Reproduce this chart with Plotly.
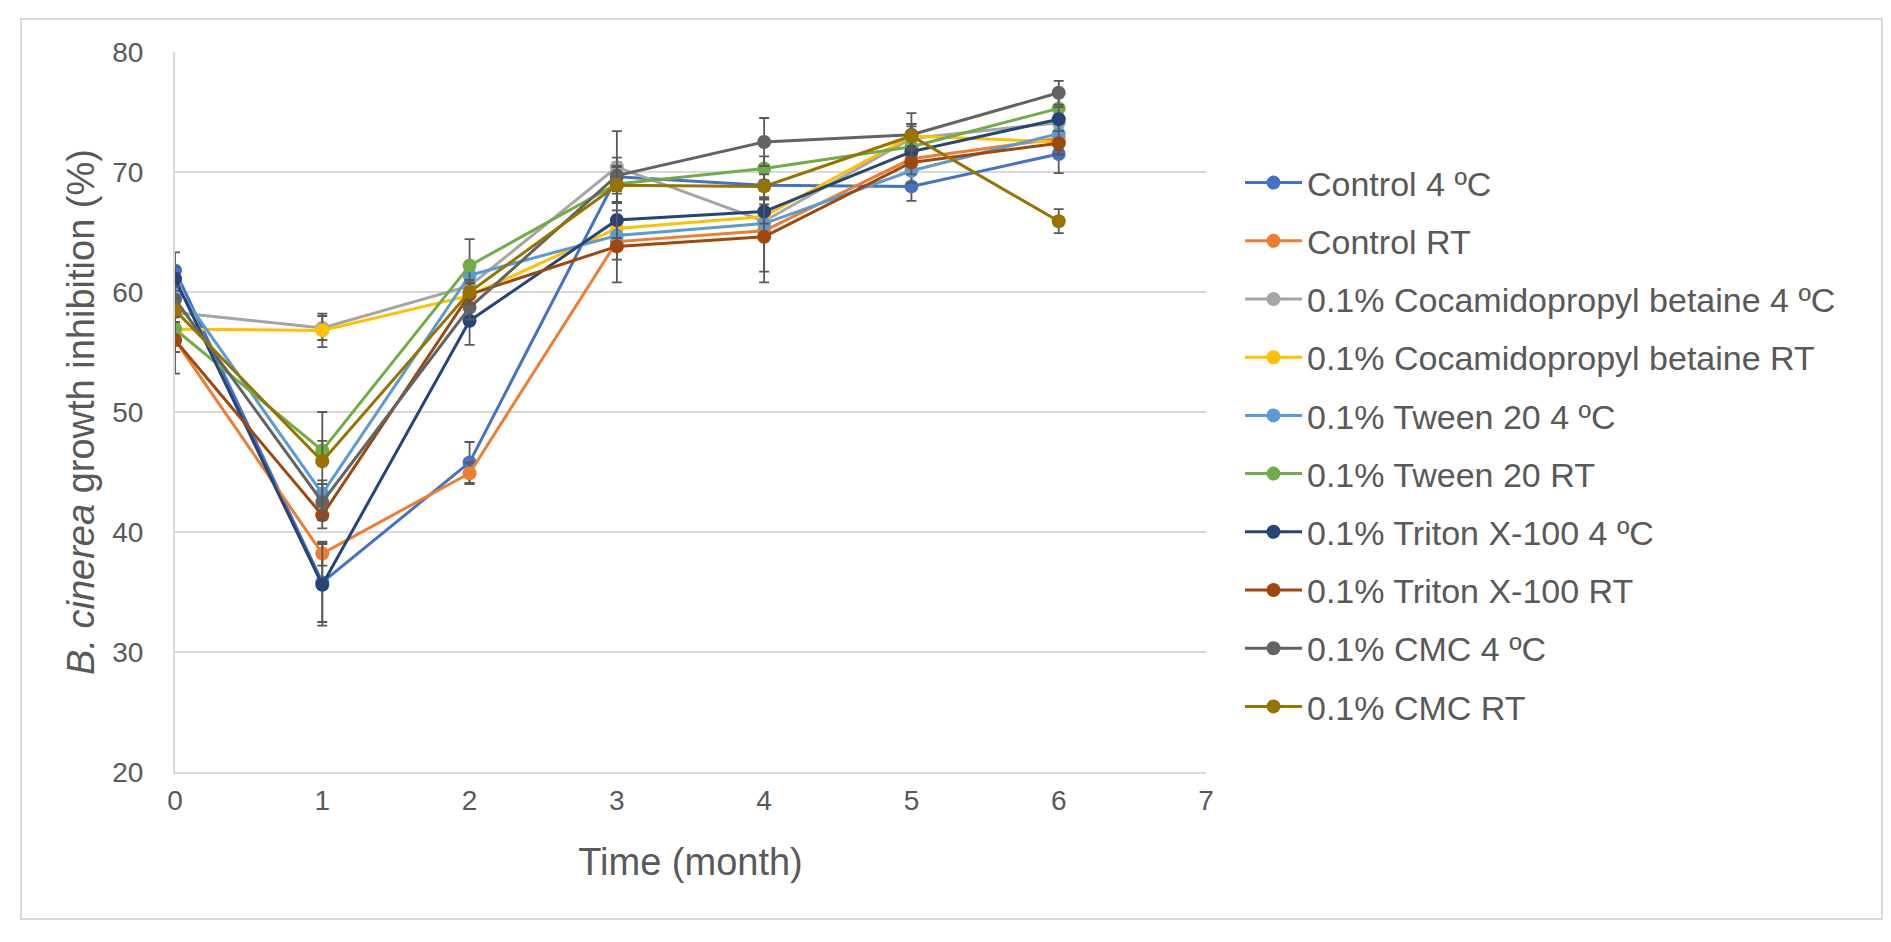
import plotly.graph_objects as go

months = [0, 1, 2, 3, 4, 5, 6]

series_names = [
    "Control 4 ºC",
    "Control RT",
    "0.1% Cocamidopropyl betaine 4 ºC",
    "0.1% Cocamidopropyl betaine RT",
    "0.1% Tween 20 4 ºC",
    "0.1% Tween 20 RT",
    "0.1% Triton X-100 4 ºC",
    "0.1% Triton X-100 RT",
    "0.1% CMC 4 ºC",
    "0.1% CMC RT",
]

control_4 = [61.8, 35.8, 45.8, 69.6, 68.9, 68.8, 71.5]
control_rt = [56.0, 38.2, 44.9, 64.2, 65.1, 71.1, 72.8]
coca_4 = [58.3, 57.0, 60.5, 70.4, 65.9, 72.8, 74.1]
coca_rt = [56.9, 56.8, 59.7, 65.3, 66.3, 73.0, 72.5]
tween_4 = [60.6, 43.2, 61.4, 64.7, 65.7, 70.1, 73.2]
tween_rt = [56.9, 46.8, 62.2, 69.0, 70.3, 72.1, 75.3]
triton_4 = [61.1, 35.6, 57.6, 66.0, 66.7, 71.7, 74.4]
triton_rt = [56.0, 41.4, 59.8, 63.8, 64.6, 70.8, 72.4]
cmc_4 = [59.4, 42.5, 58.7, 69.7, 72.5, 73.1, 76.6]
cmc_rt = [58.5, 45.9, 60.0, 68.9, 68.8, 73.0, 65.9]

err_control_4 = [1.5, 3.3, 1.7, 1.2, 1.0, 1.2, 1.6]
err_control_rt = [1.0, 1.0, 0.9, 1.5, 3.4, 1.0, 1.0]
err_coca_4 = [1.0, 1.0, 1.0, 3.0, 1.0, 1.0, 1.0]
err_coca_rt = [1.0, 1.4, 1.0, 1.0, 1.0, 1.0, 1.0]
err_tween_4 = [1.0, 1.1, 1.0, 1.0, 1.0, 1.0, 1.0]
err_tween_rt = [1.0, 0.8, 2.2, 1.5, 1.0, 1.0, 1.0]
err_triton_4 = [1.0, 3.4, 2.0, 1.5, 1.0, 1.0, 1.0]
err_triton_rt = [2.8, 1.1, 1.0, 3.0, 3.8, 1.0, 1.0]
err_cmc_4 = [1.0, 1.5, 1.0, 1.5, 2.0, 1.8, 1.0]
err_cmc_rt = [1.0, 4.1, 1.0, 1.5, 1.0, 1.0, 1.0]

values = [control_4, control_rt, coca_4, coca_rt, tween_4, tween_rt,
          triton_4, triton_rt, cmc_4, cmc_rt]
errors = [err_control_4, err_control_rt, err_coca_4, err_coca_rt, err_tween_4,
          err_tween_rt, err_triton_4, err_triton_rt, err_cmc_4, err_cmc_rt]
colors = ["#4472C4", "#ED7D31", "#A5A5A5", "#FFC000", "#5B9BD5",
          "#70AD47", "#264478", "#9E480E", "#636363", "#997300"]

W, H = 1891, 942
L, R, T, B = 175, 685, 52, 170
PW = W - L - R
PH = H - T - B

def px_x(p):
    return (p - L) / PW

def px_y(p):
    return (H - B - p) / PH

fig = go.Figure()
for i, (name, vals, errs, col) in enumerate(zip(series_names, values, errors, colors)):
    fig.add_trace(go.Scatter(
        x=months, y=vals, name=name, mode="lines+markers",
        legendgroup=f"g{i}",
        line=dict(color=col, width=3),
        marker=dict(color=col, size=14),
        error_y=dict(type="data", array=errs, visible=True,
                     color="#595959", thickness=1.8, width=5),
    ))

text_col = "#595959"
grid_col = "#D9D9D9"

fig.update_layout(
    width=W, height=H,
    margin=dict(l=L, r=R, t=T, b=B, autoexpand=False),
    paper_bgcolor="white", plot_bgcolor="white",
    font=dict(family="Liberation Sans, Arial, sans-serif", color=text_col),
    showlegend=True,
    legend=dict(
        x=px_x(1240), y=px_y(154), xanchor="left", yanchor="top",
        font=dict(size=34, color=text_col),
        tracegroupgap=11, itemwidth=57,
        bgcolor="rgba(0,0,0,0)",
    ),
    xaxis=dict(
        range=[0, 7], dtick=1, tick0=0,
        showgrid=False, zeroline=False,
        showline=True, linecolor=grid_col, linewidth=2,
        ticks="", ticklabelstandoff=2,
        tickfont=dict(size=28, color=text_col),
        title=dict(text="Time (month)", font=dict(size=38, color=text_col), standoff=34),
    ),
    yaxis=dict(
        range=[20, 80], dtick=10, tick0=20,
        showgrid=True, gridcolor=grid_col, gridwidth=2,
        zeroline=False,
        showline=True, linecolor=grid_col, linewidth=2,
        ticks="", ticklabelstandoff=24,
        tickfont=dict(size=28, color=text_col),
        title=dict(text="<i>B. cinerea</i> growth inhibition (%)",
                   font=dict(size=38, color=text_col), standoff=6),
    ),
    shapes=[dict(
        type="rect", xref="paper", yref="paper",
        x0=px_x(21), x1=px_x(1882), y0=px_y(919), y1=px_y(19),
        line=dict(color=grid_col, width=2), fillcolor="rgba(0,0,0,0)", layer="below",
    )],
)

fig.write_html("out.html", config={"displayModeBar": False},
               post_script="document.body.style.margin='0';document.body.style.overflow='hidden';")
